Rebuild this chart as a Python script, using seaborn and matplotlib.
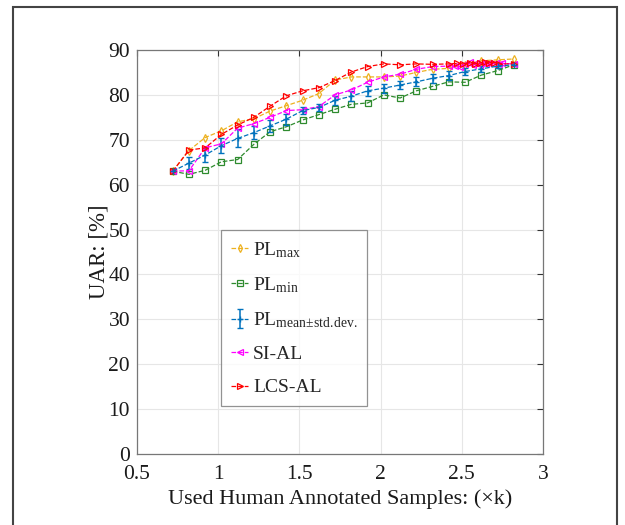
import matplotlib as mpl
import matplotlib.pyplot as plt
from matplotlib.patches import Rectangle
import seaborn as sns
import numpy as np

sns.set_style("whitegrid")
mpl.rcParams['font.family'] = ['Liberation Serif', 'DejaVu Serif']
mpl.rcParams['mathtext.fontset'] = 'custom'
mpl.rcParams['mathtext.rm'] = 'Liberation Serif'
mpl.rcParams['mathtext.it'] = 'Liberation Serif'

# common x grid (k samples)
x_steps = [0.72, 0.82, 0.92, 1.02, 1.12, 1.22, 1.32, 1.42, 1.52, 1.62, 1.72,
           1.82, 1.92, 2.02, 2.12, 2.22, 2.32, 2.42, 2.52, 2.62, 2.72, 2.82]

pl_max = [63.0, 67.6, 70.5, 72.0, 74.0, 74.7, 76.4, 77.6, 78.8, 80.3, 83.3,
          84.0, 84.0, 84.0, 84.2, 85.0, 85.7, 85.9, 86.7, 87.6, 87.8, 88.0]
pl_min = [63.0, 62.3, 63.2, 65.1, 65.6, 69.0, 71.8, 72.9, 74.4, 75.6, 76.8,
          77.9, 78.2, 80.0, 79.3, 80.9, 81.9, 82.9, 82.8, 84.4, 85.4, 86.7]
pl_mean = [63.0, 64.8, 66.6, 68.7, 70.3, 71.6, 73.1, 74.6, 76.5, 77.2, 78.8,
           79.7, 80.9, 81.5, 82.2, 82.9, 83.7, 84.3, 85.2, 85.8, 86.4, 86.7]
pl_std = [0.0, 1.3, 1.5, 1.6, 2.0, 1.5, 1.3, 1.2, 0.8, 0.8, 1.0,
          1.1, 1.1, 1.0, 1.0, 1.0, 1.0, 1.0, 0.8, 0.6, 0.5, 0.0]

si_x = [0.72, 0.82, 0.92, 1.02, 1.12, 1.22, 1.32, 1.42, 1.52, 1.62, 1.72,
        1.82, 1.92, 2.02, 2.12, 2.22, 2.32, 2.42, 2.46, 2.49, 2.52, 2.55,
        2.57, 2.59, 2.61, 2.63, 2.65, 2.67, 2.69, 2.71, 2.73, 2.75, 2.82]
si_al = [63.0, 63.1, 68.2, 69.1, 72.6, 73.6, 75.0, 76.5, 76.7, 77.4, 80.0,
         81.1, 82.8, 84.0, 84.6, 85.7, 86.3, 86.4, 86.5, 86.3, 86.8, 87.4,
         86.6, 87.1, 86.7, 87.2, 86.8, 87.1, 86.9, 87.2, 86.8, 87.0, 86.9]

lcs_x = [0.72, 0.82, 0.92, 1.02, 1.12, 1.22, 1.32, 1.42, 1.52, 1.62, 1.72,
         1.82, 1.92, 2.02, 2.12, 2.22, 2.32, 2.42, 2.47, 2.51, 2.55, 2.58,
         2.61, 2.64, 2.67, 2.70, 2.73, 2.82]
lcs_al = [63.0, 67.7, 68.2, 71.2, 73.3, 75.0, 77.5, 79.8, 80.9, 81.6, 83.2,
          85.1, 86.3, 86.9, 86.7, 86.9, 86.8, 86.9, 87.0, 86.9, 87.2, 86.9,
          87.1, 87.3, 87.0, 87.2, 86.9, 86.9]

lbl_max = r'PL$_{\mathregular{max}}$'
lbl_min = r'PL$_{\mathregular{min}}$'
lbl_mean = r'PL$_{\mathregular{mean}\!\pm\!\mathregular{std.\!dev.}}$'
legend_order = [lbl_max, lbl_min, lbl_mean, 'SI-AL', 'LCS-AL']

c_max, c_min, c_mean = '#EDB120', '#2E8B2E', '#0072BD'
c_si, c_lcs = '#FF00FF', '#FF0000'

fig = plt.figure(figsize=(6.25, 5.25), dpi=100)
ax = fig.add_axes([0.2192, 0.1352, 0.6496, 0.7696])

mk = dict(linestyle='--', linewidth=0.9, markersize=4.2, markerfacecolor='none', markeredgewidth=0.9)
sns.lineplot(x=x_steps, y=pl_max, ax=ax, marker='d', color=c_max, markeredgecolor=c_max,
             label=lbl_max, **mk)
sns.lineplot(x=x_steps, y=pl_min, ax=ax, marker='s', color=c_min, markeredgecolor=c_min,
             label=lbl_min, **mk)
ax.errorbar(x_steps, pl_mean, yerr=pl_std, color=c_mean, linestyle='--', linewidth=0.9,
            marker='+', markersize=4, capsize=2.5, elinewidth=1.1, label=lbl_mean)
sns.lineplot(x=si_x, y=si_al, ax=ax, marker='<', color=c_si, markeredgecolor=c_si,
             label='SI-AL', **mk)
sns.lineplot(x=lcs_x, y=lcs_al, ax=ax, marker='>', color=c_lcs, markeredgecolor=c_lcs,
             label='LCS-AL', **mk)

ax.set_xlim(0.5, 3)
ax.set_ylim(0, 90)
ax.set_xticks(np.arange(0.5, 3.01, 0.5))
ax.set_xticklabels(['0.5', '1', '1.5', '2', '2.5', '3'])
ax.set_yticks(np.arange(0, 91, 10))
ax.tick_params(direction='in', length=4, width=0.8, colors='#333333', labelsize=15.5,
               top=True, right=True, pad=5)
ax.tick_params(axis='x', pad=8)
ax.tick_params(axis='both', labelcolor='#1a1a1a')
ax.grid(True, color='#e6e6e6', linewidth=0.8)
for s in ax.spines.values():
    s.set_color('#777777')
    s.set_linewidth(0.9)

ax.set_xlabel('Used Human Annotated Samples: (×k)', fontsize=16, color='#1a1a1a', labelpad=4)
ax.set_ylabel('UAR: [%]', fontsize=16.5, color='#1a1a1a')
ax.yaxis.set_label_coords(-0.067, 0.5)

handles, labels = ax.get_legend_handles_labels()
hmap = dict(zip(labels, handles))
leg = ax.legend([hmap[l] for l in legend_order], legend_order,
                loc='upper left', bbox_to_anchor=(0.207, 0.554), fontsize=14,
                fancybox=False, frameon=True, handlelength=0.9, handletextpad=0.25,
                labelspacing=0.8, borderpad=0.5, borderaxespad=0)
leg.get_frame().set_edgecolor('#777777')
leg.get_frame().set_linewidth(0.9)

fig.add_artist(Rectangle((13 / 625, -0.05), (617 - 13) / 625, 1.05 - 7 / 525,
                         transform=fig.transFigure, fill=False, edgecolor='#444444', linewidth=1.5))

fig.savefig('out.png', dpi=100)
